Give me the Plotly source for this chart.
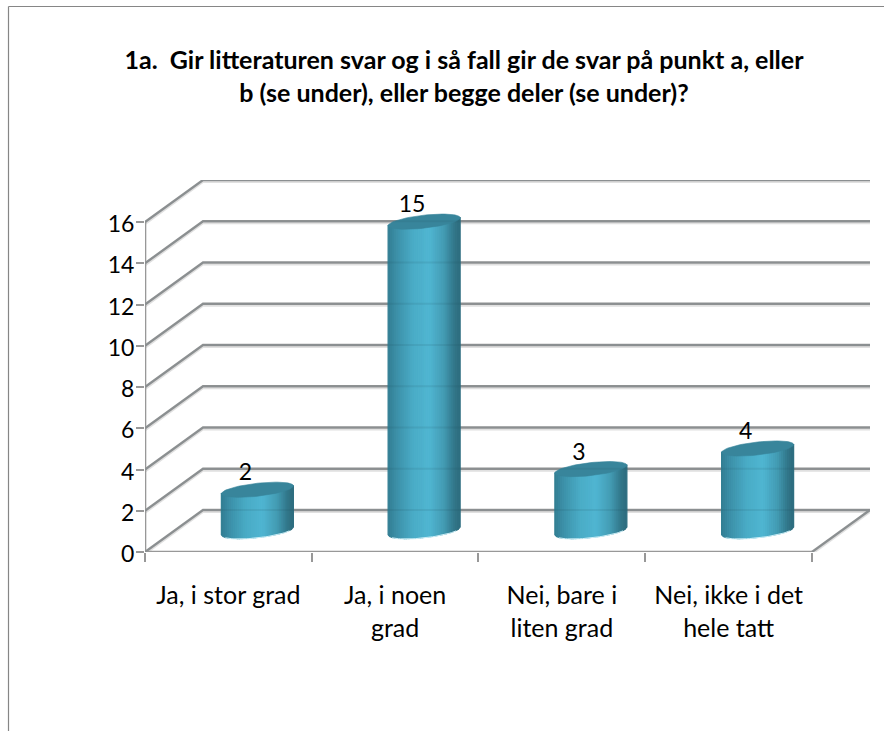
import numpy as np
import plotly.graph_objects as go

# ---- data ----
categories = ["Ja, i stor grad", "Ja, i noen<br>grad", "Nei, bare i<br>liten grad", "Nei, ikke i det<br>hele tatt"]
values = [2, 15, 3, 4]
y_ticks = [0, 2, 4, 6, 8, 10, 12, 14, 16]
title_text = "1a.  Gir litteraturen svar og i så fall gir de svar på punkt a, eller<br>b (se under), eller begge deler (se under)?"

# ---- style / geometry ----
W, H = 884, 731
FONT = "Lato"
PX_L, PX_R, PX_0, PX_TOP = 145, 870, 552, 180
DX, DY = 0.348, 2.04           # depth offset of the back wall, in axis units
A, B, S = 0.216, 0.315, 0.19   # cylinder radius / ellipse minor / tilt, in axis units
GRID = "#989898"
SHADOW = "#e0e0e0"
TOP = "#38859b"
RIM = "#cdeef6"
stops_pos = [0.0, 0.12, 0.35, 0.58, 0.78, 0.92, 1.0]
stops_rgb = [(50, 125, 146), (60, 144, 168), (74, 172, 198), (80, 182, 210), (68, 156, 180), (50, 120, 139), (46, 108, 126)]
N_STRIPS = 36

centers = [i + 0.5 + DX / 2 for i in range(len(values))]
base = DY / 2
n = len(values)

fig = go.Figure()


def line(x, y, color, width, opacity=1.0):
    fig.add_trace(go.Scatter(x=x, y=y, mode="lines", line=dict(color=color, width=width), opacity=opacity,
                             cliponaxis=False, hoverinfo="skip", showlegend=False))


def grid_xy(off=0.0):
    xs, ys = [], []
    for v in y_ticks:
        xs += [0, DX, n + DX, None]
        ys += [v + off, v + DY + off, v + DY + off, None]
    xs += [n + DX, n, None]
    ys += [DY + off, 0 + off, None]
    return xs, ys


# walls
gx, gy = grid_xy(-0.1)
line(gx, gy, SHADOW, 2)
gx, gy = grid_xy()
line(gx, gy, GRID, 2.4)
# axis lines
line([0, 0], [0, max(y_ticks)], GRID, 2.6)
line([0, n], [0, 0], GRID, 2.6)


def lower(xc, yc, x):
    c = np.clip((x - xc) / A, -1, 1)
    return yc + S * c - B * np.sqrt(1 - c * c)


# cylinder bodies: one trace per shade of the side gradient
edges = np.linspace(-A, A, N_STRIPS + 1)
for k in range(N_STRIPS):
    f = (k + 0.5) / N_STRIPS
    rgb = [np.interp(f, stops_pos, [c[j] for c in stops_rgb]) for j in range(3)]
    col = "rgb(%d,%d,%d)" % tuple(rgb)
    xs, ys = [], []
    for xc, v in zip(centers, values):
        xa, xb = xc + edges[k], xc + edges[k + 1]
        ta, tb = base + v + S * edges[k] / A, base + v + S * edges[k + 1] / A
        xs += [xa, xb, xb, xa, xa, None]
        ys += [lower(xc, base, xa), lower(xc, base, xb), tb, ta, lower(xc, base, xa), None]
    fig.add_trace(go.Scatter(x=xs, y=ys, mode="lines", fill="toself", fillcolor=col,
                             line=dict(color=col, width=1.2), cliponaxis=False,
                             hoverinfo="skip", showlegend=False))

# lit rim at the foot and top caps
t = np.linspace(0, 2 * np.pi, 73)
tf = np.linspace(1.15 * np.pi, 1.85 * np.pi, 29)
rx, ry, cx, cy = [], [], [], []
for xc, v in zip(centers, values):
    rx += list(xc + A * np.cos(tf)) + [None]
    ry += list(base + S * np.cos(tf) + B * np.sin(tf) - 0.02) + [None]
    cx += list(xc + A * np.cos(t)) + [None]
    cy += list(base + v + S * np.cos(t) + B * np.sin(t)) + [None]
line(rx, ry, RIM, 1)
fig.add_trace(go.Scatter(x=cx, y=cy, mode="lines", fill="toself", fillcolor=TOP, line=dict(color=TOP, width=0.6),
                         cliponaxis=False, hoverinfo="skip", showlegend=False))

# faint gridlines seen through the cylinders
gx, gy = grid_xy()
line(gx, gy, "#1d4a58", 2, opacity=0.10)

# data labels
fig.add_trace(go.Scatter(x=[c - 0.072 for c in centers], y=[base + v + 0.74 for v in values],
                         mode="text", text=[str(v) for v in values], textposition="middle center",
                         textfont=dict(family=FONT, size=23, color="black"), cliponaxis=False,
                         hoverinfo="skip", showlegend=False))

fig.update_layout(
    width=W, height=H, margin=dict(l=0, r=0, t=0, b=0, pad=0), autosize=False,
    paper_bgcolor="white", plot_bgcolor="rgba(0,0,0,0)", showlegend=False, hovermode=False,
    title=dict(text=title_text, x=464 / W, xanchor="center", y=1 - 69 / H, yanchor="top",
               font=dict(family=FONT, size=25, color="black", weight="bold")),
    xaxis=dict(domain=[PX_L / W, PX_R / W], range=[0, n + DX], showgrid=False, zeroline=False, showline=False,
               automargin=False,
               tickmode="array", tickvals=[i + 0.5 for i in range(n)], ticktext=categories,
               ticks="", ticklabelstandoff=26, tickangle=0, tickfont=dict(family=FONT, size=25, color="black"),
               minor=dict(tickmode="array", tickvals=list(range(n + 1)), ticks="outside", ticklen=9, tickwidth=2,
                          tickcolor=GRID, showgrid=False)),
    yaxis=dict(domain=[(H - PX_0) / H, (H - PX_TOP) / H], range=[0, 16 + DY], showgrid=False, zeroline=False,
               automargin=False,
               showline=False, tickmode="array", tickvals=y_ticks, ticks="outside", ticklen=8, tickwidth=2,
               tickcolor=GRID, tickfont=dict(family=FONT, size=23, color="black"),
               ticklabelstandoff=-3, ticklabelshift=2),
    shapes=[
        dict(type="line", xref="paper", yref="paper", x0=8.5 / W, x1=8.5 / W, y0=0, y1=1 - 6.5 / H,
             line=dict(color="#868686", width=1.2)),
        dict(type="line", xref="paper", yref="paper", x0=8.5 / W, x1=1, y0=1 - 6.5 / H, y1=1 - 6.5 / H,
             line=dict(color="#868686", width=1.2)),
    ],
)

fig.write_html("out.html", config=dict(displayModeBar=False),
               post_script="document.body.style.margin='0';document.body.style.overflow='hidden';")
